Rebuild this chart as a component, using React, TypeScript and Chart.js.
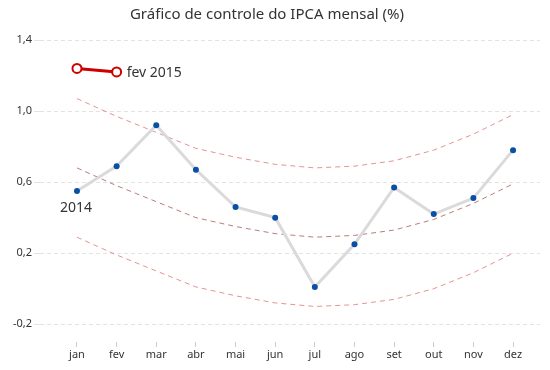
import React, { useEffect, useRef } from "react";
import { Chart, registerables } from "chart.js";

Chart.register(...registerables);

const months = ["jan", "fev", "mar", "abr", "mai", "jun", "jul", "ago", "set", "out", "nov", "dez"];
const ipca2014 = [0.55, 0.69, 0.92, 0.67, 0.46, 0.40, 0.01, 0.25, 0.57, 0.42, 0.51, 0.78];
const ipca2015 = [1.24, 1.22];
const upperBand = [1.07, 0.97, 0.88, 0.79, 0.74, 0.70, 0.68, 0.69, 0.72, 0.78, 0.87, 0.98];
const middleBand = [0.68, 0.58, 0.49, 0.40, 0.35, 0.31, 0.29, 0.30, 0.33, 0.39, 0.48, 0.59];
const lowerBand = [0.29, 0.19, 0.10, 0.01, -0.04, -0.08, -0.10, -0.09, -0.06, 0.00, 0.09, 0.20];
const yTicks = [1.4, 1.0, 0.6, 0.2, -0.2];
const title = "Gráfico de controle do IPCA mensal (%)";
const label2014 = "2014";
const label2015 = "fev 2015";

const FONT = "'Noto Sans', 'Open Sans', sans-serif";

const toPts = (arr: number[]) => arr.map((v, i) => ({ x: i, y: v }));

export default function App() {
  const ref = useRef<HTMLCanvasElement>(null);
  useEffect(() => {
    document.body.style.margin = "0";
    const annot = {
      id: "annot",
      afterDraw(chart: any) {
        const ctx = chart.ctx;
        const xs = chart.scales.x;
        const ys = chart.scales.y;
        ctx.save();
        ctx.fillStyle = "#333";
        ctx.font = `15px ${FONT}`;
        ctx.textAlign = "center";
        ctx.textBaseline = "middle";
        ctx.fillText(title, 267, 15);
        ctx.font = `14px ${FONT}`;
        ctx.fillText(label2014, xs.getPixelForValue(0) - 1, ys.getPixelForValue(ipca2014[0]) + 17);
        ctx.textAlign = "left";
        ctx.fillText(label2015, xs.getPixelForValue(1) + 10, ys.getPixelForValue(ipca2015[1]) + 1);
        ctx.restore();
      },
    };
    const dashed = (data: number[], color: string) => ({
      data: toPts(data),
      borderColor: color,
      borderWidth: 1,
      borderDash: [5, 4],
      pointRadius: 0,
      fill: false,
      order: 3,
    });
    const chart = new Chart(ref.current!, {
      type: "line",
      data: {
        datasets: [
          {
            data: toPts(ipca2015),
            borderColor: "#cc0000",
            borderWidth: 3,
            pointRadius: 4.5,
            pointBackgroundColor: "#ffffff",
            pointBorderColor: "#cc0000",
            pointBorderWidth: 2,
            order: 0,
          },
          {
            data: toPts(ipca2014),
            borderColor: "#dadada",
            borderWidth: 3,
            pointRadius: 3,
            pointBackgroundColor: "#0b4ea6",
            pointBorderWidth: 0,
            order: 1,
          },
          dashed(upperBand, "rgba(222,110,110,0.75)"),
          dashed(middleBand, "rgba(170,90,90,0.8)"),
          dashed(lowerBand, "rgba(222,110,110,0.75)"),
        ] as any,
      },
      plugins: [annot],
      options: {
        animation: false,
        responsive: false,
        maintainAspectRatio: false,
        layout: { padding: { left: 8, right: 10, top: 40, bottom: 0 } },
        plugins: {
          legend: { display: false },
          tooltip: { enabled: false },
          title: { display: false },
        },
        scales: {
          x: {
            type: "linear",
            min: -0.933,
            max: 11.68,
            afterBuildTicks: (s: any) => {
              s.ticks = months.map((_, i) => ({ value: i }));
            },
            afterFit: (s: any) => {
              s.height = 28;
            },
            ticks: {
              callback: (v: any) => months[v as number],
              font: { family: FONT, size: 11 },
              color: "#333",
              padding: 1,
              maxRotation: 0,
              autoSkip: false,
            },
            grid: {
              drawOnChartArea: false,
              drawTicks: true,
              tickLength: 5,
              color: "#cccccc",
            },
            border: { display: false },
          },
          y: {
            min: -0.3,
            max: 1.4,
            afterBuildTicks: (s: any) => {
              s.ticks = yTicks.map((v) => ({ value: v }));
            },
            afterFit: (s: any) => {
              s.width = 32;
            },
            ticks: {
              callback: (v: any) => (v as number).toFixed(1).replace(".", ","),
              font: { family: FONT, size: 11 },
              color: "#333",
              padding: 2,
            },
            grid: {
              color: "#e3e3e3",
              tickLength: 6,
            },
            border: { display: false, dash: [4, 3] },
          },
        },
      },
    });
    return () => chart.destroy();
  }, []);
  return (
    <div style={{ position: "absolute", left: 0, top: 0, width: 550, height: 370 }}>
      <canvas ref={ref} width={550} height={370} style={{ width: 550, height: 370 }} />
    </div>
  );
}
